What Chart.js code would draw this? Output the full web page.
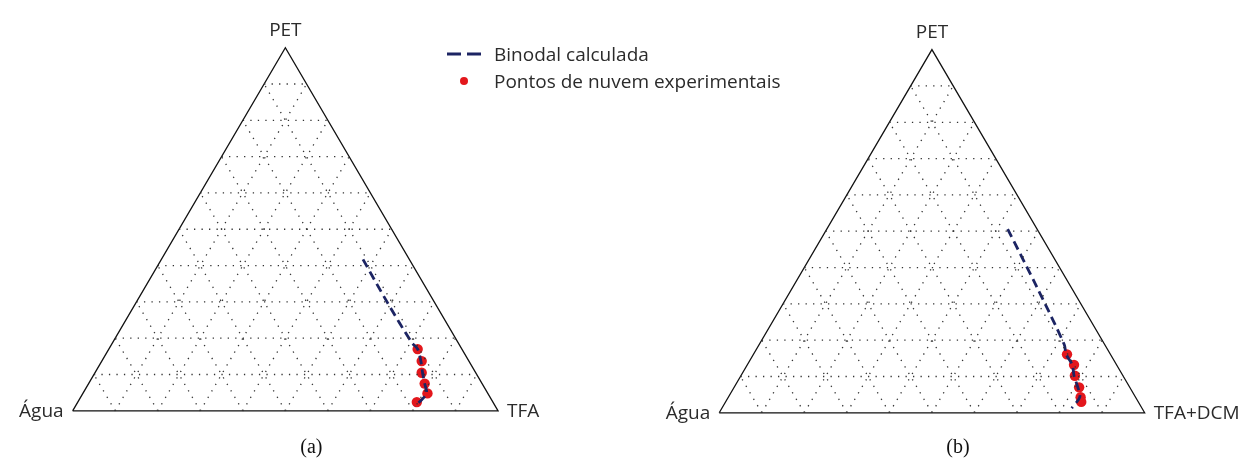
<!DOCTYPE html>
<html>
<head>
<meta charset="utf-8">
<script src="https://cdn.jsdelivr.net/npm/chart.js@4.4.1/dist/chart.umd.min.js"></script>
<style>
  html, body { margin: 0; padding: 0; background: #ffffff; }
  #grafico { display: block; }
</style>
</head>
<body>
<canvas id="grafico" width="1252" height="461"></canvas>
<script>
// ---------------- DADOS ----------------
// frações mássicas (PET, TFA); Água = 1 - PET - TFA
const divisoes = [0.1, 0.2, 0.3, 0.4, 0.5, 0.6, 0.7, 0.8, 0.9];

const verticesA = ["PET", "Água", "TFA"];
const verticesB = ["PET", "Água", "TFA+DCM"];
const legendas = ["Binodal calculada", "Pontos de nuvem experimentais"];
const rotulos = ["(a)", "(b)"];

// (a) binodal calculada
const binodalPetA = [0.417, 0.300, 0.188, 0.170, 0.137, 0.105, 0.075, 0.048, 0.030, 0.013];
const binodalTfaA = [0.474, 0.589, 0.703, 0.726, 0.750, 0.770, 0.790, 0.808, 0.805, 0.797];
// (a) pontos experimentais
const pontosPetA = [0.170, 0.137, 0.105, 0.075, 0.048, 0.024];
const pontosTfaA = [0.726, 0.752, 0.768, 0.790, 0.810, 0.797];

// (b) binodal calculada
const binodalPetB = [0.506, 0.350, 0.188, 0.161, 0.132, 0.102, 0.070, 0.043, 0.013];
const binodalTfaB = [0.425, 0.570, 0.717, 0.735, 0.764, 0.783, 0.808, 0.826, 0.822];
// (b) pontos experimentais
const pontosPetB = [0.161, 0.132, 0.102, 0.070, 0.043, 0.030];
const pontosTfaB = [0.737, 0.768, 0.785, 0.811, 0.828, 0.836];

// ---------------- GEOMETRIA ----------------
const escala = 429;             // px por unidade
const x0 = 68, y0 = 415;        // vértice Água do triângulo (a), em px
const deslocB = { x: (720 - 68) / escala, y: (415 - 417) / escala };
const deslocA = { x: 0, y: 0 };
const R3 = Math.sqrt(3) / 2;

const corLinha = "#1c2463";
const corPonto = "#e3171c";
const corGrade = "#333333";
const fonte = "'Open Sans', 'Noto Sans', sans-serif";

const ternario = (pet, tfa, d) => ({ x: d.x + tfa + pet / 2, y: d.y + pet * R3 });

const linhasGrade = (d) => {
  const linhas = [];
  divisoes.forEach((v) => {
    linhas.push([ternario(v, 0, d), ternario(v, 1 - v, d)]);       // PET constante
    linhas.push([ternario(0, v, d), ternario(1 - v, v, d)]);       // TFA constante
    linhas.push([ternario(0, 1 - v, d), ternario(1 - v, 0, d)]);   // Água constante
  });
  return linhas.map((pts) => ({
    type: "line",
    data: pts,
    borderColor: corGrade,
    borderWidth: 1.3,
    borderDash: [1.3, 6.2],
    pointRadius: 0,
    fill: false,
  }));
};

const contorno = (d) => ({
  type: "line",
  data: [ternario(0, 0, d), ternario(0, 1, d), ternario(1, 0, d), ternario(0, 0, d)],
  borderColor: "#111111",
  borderWidth: 1.3,
  pointRadius: 0,
  fill: false,
});

const binodal = (pets, tfas, d) => ({
  type: "line",
  data: pets.map((p, i) => ternario(p, tfas[i], d)),
  borderColor: corLinha,
  borderWidth: 2.8,
  borderDash: [9, 5],
  pointRadius: 0,
  tension: 0.3,
  fill: false,
});

const pontos = (pets, tfas, d) => ({
  type: "scatter",
  data: pets.map((p, i) => ternario(p, tfas[i], d)),
  backgroundColor: corPonto,
  borderColor: corPonto,
  pointRadius: 5.2,
  borderWidth: 0,
});

const datasets = [
  ...linhasGrade(deslocA), ...linhasGrade(deslocB),
  contorno(deslocA), contorno(deslocB),
  binodal(binodalPetA, binodalTfaA, deslocA),
  binodal(binodalPetB, binodalTfaB, deslocB),
  pontos(pontosPetA, pontosTfaA, deslocA),
  pontos(pontosPetB, pontosTfaB, deslocB),
];

// ---------------- TEXTOS ----------------
const textos = {
  id: "textos",
  afterDraw(chart) {
    const c = chart.ctx;
    const sx = chart.scales.x, sy = chart.scales.y;
    const px = (p) => ({ x: sx.getPixelForValue(p.x), y: sy.getPixelForValue(p.y) });

    c.save();
    c.fillStyle = "#2b2b2b";
    c.textBaseline = "alphabetic";

    [[verticesA, deslocA, rotulos[0]], [verticesB, deslocB, rotulos[1]]].forEach(([nomes, d, rot]) => {
      const topo = px(ternario(1, 0, d));
      const esq = px(ternario(0, 0, d));
      const dir = px(ternario(0, 1, d));
      c.font = "19px " + fonte;
      c.textAlign = "center";
      c.fillText(nomes[0], topo.x, topo.y - 12);
      c.textAlign = "right";
      c.fillText(nomes[1], esq.x - 9, esq.y + 6);
      c.textAlign = "left";
      c.fillText(nomes[2], dir.x + 9, dir.y + 6);
      c.save();
      c.fillStyle = "#111111";
      c.font = "20px 'Liberation Serif', serif";
      c.textAlign = "center";
      c.fillText(rot, (esq.x + dir.x) / 2 + 26, 453);
      c.restore();
    });

    // legenda
    const lx = 447, ly1 = 54, ly2 = 81;
    c.strokeStyle = corLinha;
    c.lineWidth = 2.8;
    c.setLineDash([14, 6]);
    c.beginPath();
    c.moveTo(lx, ly1);
    c.lineTo(lx + 38, ly1);
    c.stroke();
    c.setLineDash([]);
    c.fillStyle = corPonto;
    c.beginPath();
    c.arc(lx + 17, ly2, 4, 0, Math.PI * 2);
    c.fill();
    c.fillStyle = "#2b2b2b";
    c.font = "19px " + fonte;
    c.textAlign = "left";
    c.fillText(legendas[0], 494, ly1 + 7);
    c.fillText(legendas[1], 494, ly2 + 7);
    c.restore();
  },
};

const fundo = {
  id: "fundo",
  beforeDraw(chart) {
    const c = chart.ctx;
    c.save();
    c.fillStyle = "#ffffff";
    c.fillRect(0, 0, chart.width, chart.height);
    c.restore();
  },
};

const W = 1252, H = 461;
const xmin = -x0 / escala;
const ymin = -(H - y0) / escala;

new Chart(document.getElementById("grafico"), {
  data: { datasets },
  options: {
    responsive: false,
    animation: false,
    devicePixelRatio: 1,
    layout: { padding: 0 },
    scales: {
      x: { type: "linear", display: false, min: xmin, max: xmin + W / escala },
      y: { type: "linear", display: false, min: ymin, max: ymin + H / escala },
    },
    plugins: { legend: { display: false }, tooltip: { enabled: false } },
    elements: { line: { borderCapStyle: "butt" } },
    datasets: { line: { clip: false }, scatter: { clip: false } },
  },
  plugins: [fundo, textos],
});
</script>
</body>
</html>
